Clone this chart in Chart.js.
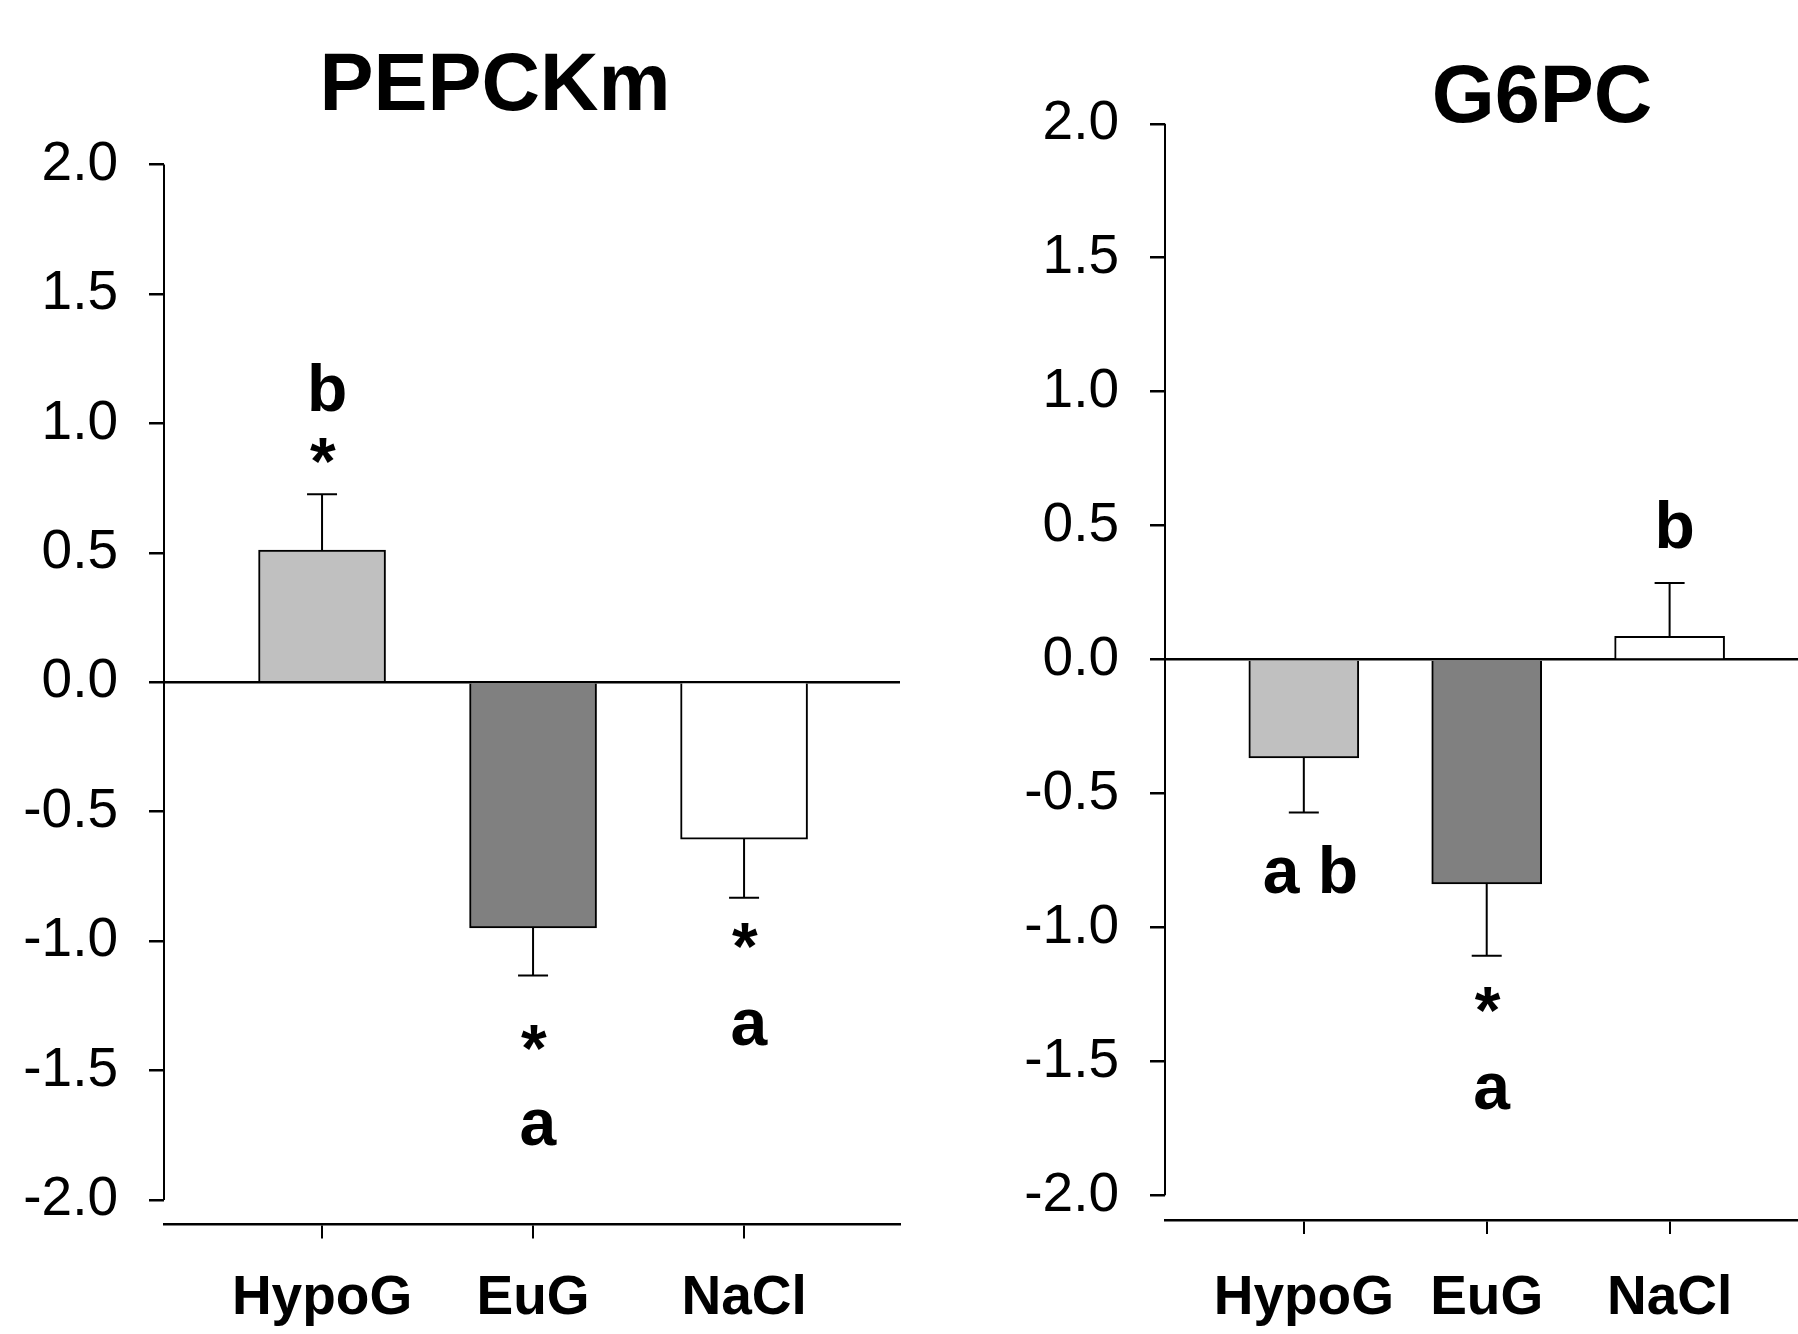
<!DOCTYPE html>
<html lang="en">
<head>
<meta charset="UTF-8">
<title>PEPCKm / G6PC</title>
<script src="https://cdn.jsdelivr.net/npm/chart.js"></script>
<style>
  body { margin: 0; background: #fff; width: 1798px; height: 1334px; position: relative; overflow: hidden; font-family: "Liberation Sans", Arial, sans-serif; }
  canvas { position: absolute; top: 0; }
  #left-plot { left: 0; }
  #right-plot { left: 960px; }
  .title { position: absolute; width: 400px; text-align: center; font-weight: bold; font-size: 81px; line-height: 81px; color: #000; }
</style>
</head>
<body>
<div class="title" style="left:295px; top:42px">PEPCKm</div>
<div class="title" style="left:1342px; top:54px">G6PC</div>
<canvas id="left-plot" width="960" height="1334"></canvas>
<canvas id="right-plot" width="838" height="1334"></canvas>
<script>
const categories = ['HypoG', 'EuG', 'NaCl'];
const barColors = ['#c0c0c0', '#808080', '#ffffff'];
const yTicks = [-2, -1.5, -1, -0.5, 0, 0.5, 1, 1.5, 2];

const pepckValues = [0.51, -0.949, -0.606];
const pepckErrors = [0.216, 0.184, 0.227];
const pepckLetters = ['b', 'a', 'a'];
const pepckLetterY = [1.139, -1.72, -1.333];
const pepckStarY = [0.894, -1.372, -0.98];

const g6pcValues = [-0.367, -0.837, 0.087];
const g6pcErrors = [0.204, 0.269, 0.199];
const g6pcLetters = ['a b', 'a', 'b'];
const g6pcLetterY = [-0.785, -1.612, 0.503];
const g6pcStarY = [null, -1.268, null];

const FONT = "'Liberation Sans', Arial, sans-serif";

// y axis line (stops at -2.0), error bars, letters and asterisks
const extras = {
  id: 'extras',
  afterDatasetsDraw(chart, args, opts) {
    const ctx = chart.ctx;
    const y = chart.scales.y;
    ctx.save();
    ctx.strokeStyle = '#000';
    ctx.lineWidth = 2;
    ctx.beginPath();
    ctx.moveTo(chart.chartArea.left, y.getPixelForValue(2));
    ctx.lineTo(chart.chartArea.left, y.getPixelForValue(-2));
    ctx.stroke();

    const bars = chart.getDatasetMeta(0).data;
    bars.forEach((bar, i) => {
      const v = opts.values[i];
      const end = y.getPixelForValue(v + Math.sign(v) * opts.errors[i]);
      ctx.beginPath();
      ctx.moveTo(bar.x, bar.y);
      ctx.lineTo(bar.x, end);
      ctx.moveTo(bar.x - 15, end);
      ctx.lineTo(bar.x + 15, end);
      ctx.stroke();
    });

    ctx.fillStyle = '#000';
    ctx.textAlign = 'left';
    ctx.textBaseline = 'alphabetic';
    ctx.font = 'bold 66px ' + FONT;
    const put = (txt, px, val) => {
      const m = ctx.measureText(txt);
      const py = y.getPixelForValue(val);
      ctx.fillText(txt,
        px - (m.actualBoundingBoxRight - m.actualBoundingBoxLeft) / 2,
        py + (m.actualBoundingBoxAscent - m.actualBoundingBoxDescent) / 2);
    };
    bars.forEach((bar, i) => {
      put(opts.letters[i], bar.x + 6, opts.letterY[i]);
      if (opts.starY[i] !== null) put('*', bar.x + 1, opts.starY[i]);
    });
    ctx.restore();
  }
};

function makeChart(id, values, errors, letters, letterY, starY, o) {
  return new Chart(document.getElementById(id), {
    type: 'bar',
    data: {
      datasets: [{
        data: values.map((v, i) => ({ x: i + 1, y: v })),
        backgroundColor: barColors,
        borderColor: '#000',
        borderWidth: 2,
        barThickness: o.barWidth
      }]
    },
    options: {
      responsive: false,
      animation: false,
      layout: { padding: o.padding },
      plugins: {
        legend: { display: false },
        tooltip: { enabled: false },
        extras: { values, errors, letters, letterY, starY }
      },
      scales: {
        x: {
          type: 'linear',
          min: o.xMin,
          max: o.xMax,
          offset: false,
          afterBuildTicks: s => { s.ticks = categories.map((c, i) => ({ value: i + 1 })); },
          afterFit: s => { s.height = o.xHeight; },
          ticks: {
            callback: v => categories[v - 1],
            font: { family: FONT, size: 55, weight: 'bold' },
            color: '#000',
            padding: o.xPad,
            maxRotation: 0,
            autoSkip: false
          },
          grid: { offset: false, drawOnChartArea: false, tickLength: 14, color: '#000', lineWidth: 2 },
          border: { display: true, color: '#000', width: 2.5 }
        },
        y: {
          min: o.yMin,
          max: 2,
          afterBuildTicks: s => { s.ticks = yTicks.map(v => ({ value: v })); },
          afterFit: s => { s.width = o.yWidth; },
          ticks: {
            callback: v => v.toFixed(1),
            font: { family: FONT, size: 55 },
            color: '#000',
            padding: 31
          },
          grid: {
            color: c => (c.tick && c.tick.value === 0) ? '#000' : 'rgba(0,0,0,0)',
            tickColor: '#000',
            lineWidth: 2.5,
            tickLength: 15
          },
          border: { display: false }
        }
      }
    },
    plugins: [extras]
  });
}

makeChart('left-plot', pepckValues, pepckErrors, pepckLetters, pepckLetterY, pepckStarY, {
  padding: { left: 0, top: 164.5, right: 60, bottom: 0 },
  yWidth: 164, xHeight: 109.5, xPad: 27,
  xMin: 0.251, xMax: 3.739, yMin: -2.095, barWidth: 127
});

makeChart('right-plot', g6pcValues, g6pcErrors, g6pcLetters, g6pcLetterY, g6pcStarY, {
  padding: { left: 0, top: 123.8, right: 0, bottom: 0 },
  yWidth: 205, xHeight: 114, xPad: 32,
  xMin: 0.241, xMax: 3.702, yMin: -2.092, barWidth: 110
});
</script>
</body>
</html>
